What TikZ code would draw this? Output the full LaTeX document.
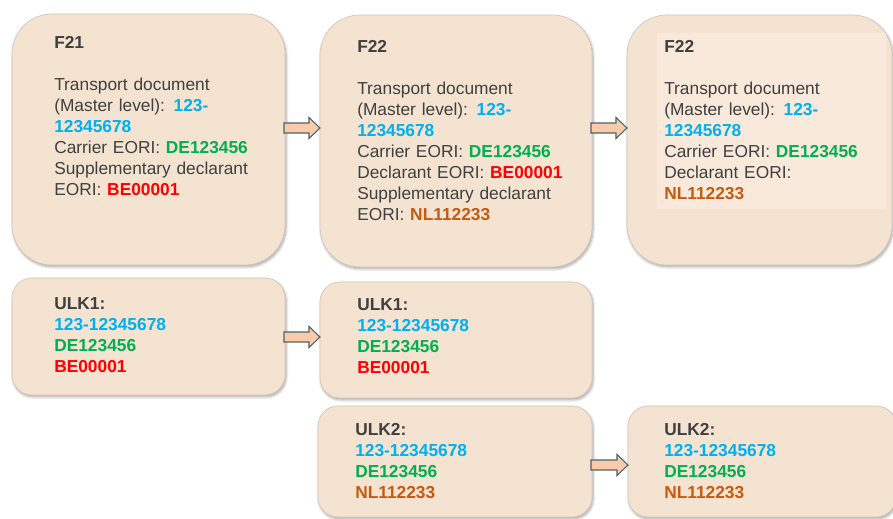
\documentclass[tikz,border=0pt]{standalone}
\usepackage{fontspec}
\setmainfont{Liberation Sans}
\usetikzlibrary{calc,shadows.blur}
\definecolor{boxfill}{HTML}{F4E3D1}
\definecolor{boxline}{HTML}{D2C6BA}
\definecolor{innerfill}{HTML}{F8E9DA}
\definecolor{txtgrey}{HTML}{404040}
\definecolor{cblue}{HTML}{00B0F0}
\definecolor{cgreen}{HTML}{00B050}
\definecolor{cred}{HTML}{FF0000}
\definecolor{corange}{HTML}{C55A11}
\definecolor{arrfill}{HTML}{F8CBAD}
\definecolor{arrline}{HTML}{4F6262}
\newcommand\vb[1]{\textbf{\color{cblue}#1}}
\newcommand\vg[1]{\textbf{\color{cgreen}#1}}
\newcommand\vr[1]{\textbf{\color{cred}#1}}
\newcommand\vo[1]{\textbf{\color{corange}#1}}
\tikzset{
  panel/.style={rectangle, fill=boxfill, draw=boxline, line width=0.5pt, inner sep=0pt, outer sep=0pt,
    blur shadow={shadow blur steps=6, shadow xshift=0.8pt, shadow yshift=-1.4pt, shadow blur radius=2pt, shadow opacity=35}},
  bigbox/.style={panel, rounded corners=30pt},
  smallbox/.style={panel, rounded corners=15pt},
  txt/.style={anchor=base west, inner sep=0pt, text width=240pt, align=left, text=txtgrey,
    font=\fontsize{13}{15.75}\selectfont},
  barrow/.style={fill=arrfill, draw=arrline, line width=0.8pt, line join=miter}
}
\newcommand\blockarr[3]{%
  \path (#1.east |- 0,#3) coordinate (s) (#2.west |- 0,#3) coordinate (e);
  \draw[barrow] ($(s)+(-1,-5)$) -- ($(e)+(-11,-5)$) -- ($(e)+(-11,-10.5)$) -- (e)
    -- ($(e)+(-11,10.5)$) -- ($(e)+(-11,5)$) -- ($(s)+(-1,5)$) -- cycle;}
\begin{document}
\begin{tikzpicture}[x=0.75pt,y=-0.75pt]
\useasboundingbox (0,0) rectangle (893,518);
\begin{scope}
\clip (0,0) rectangle (893,518);
% top row
\node[bigbox, minimum width=204.75pt, minimum height=188.25pt] (A) at (148.5,139.5) {};
\node[bigbox, minimum width=204pt, minimum height=189pt] (B) at (456,141) {};
\node[bigbox, minimum width=198.75pt, minimum height=187.5pt] (C) at (759.5,140) {};
\node[rectangle, fill=innerfill, inner sep=0pt, minimum width=171.75pt, minimum height=132pt] (Ci) at (771.5,121) {};
% bottom row
\node[smallbox, minimum width=204.75pt, minimum height=87.75pt] (D) at (148.5,336.5) {};
\node[smallbox, minimum width=204pt, minimum height=87pt] (E) at (456,340) {};
\node[smallbox, minimum width=205.5pt, minimum height=83.25pt] (F) at (455,461.5) {};
\node[smallbox, minimum width=201pt, minimum height=83.25pt] (G) at (762,461.5) {};
\end{scope}
% texts
\node[txt] (At) at (54,48) {\textbf{F21}\\[15.75pt]
Transport document\\
(Master level): \vb{123-}\\
\vb{12345678}\\
Carrier EORI: \vg{DE123456}\\
Supplementary declarant\\
EORI: \vr{BE00001}};
\node[txt] (Bt) at (357,52) {\textbf{F22}\\[15.75pt]
Transport document\\
(Master level): \vb{123-}\\
\vb{12345678}\\
Carrier EORI: \vg{DE123456}\\
Declarant EORI: \vr{BE00001}\\
Supplementary declarant\\
EORI: \vo{NL112233}};
\node[txt] (Ct) at (664,52) {\textbf{F22}\\[15.75pt]
Transport document\\
(Master level): \vb{123-}\\
\vb{12345678}\\
Carrier EORI: \vg{DE123456}\\
Declarant EORI:\\
\vo{NL112233}};
\node[txt] (Dt) at (54,309) {\textbf{ULK1:}\\
\vb{123-12345678}\\
\vg{DE123456}\\
\vr{BE00001}};
\node[txt] (Et) at (357,310) {\textbf{ULK1:}\\
\vb{123-12345678}\\
\vg{DE123456}\\
\vr{BE00001}};
\node[txt] (Ft) at (355,435) {\textbf{ULK2:}\\
\vb{123-12345678}\\
\vg{DE123456}\\
\vo{NL112233}};
\node[txt] (Gt) at (664,435) {\textbf{ULK2:}\\
\vb{123-12345678}\\
\vg{DE123456}\\
\vo{NL112233}};
% block arrows
\blockarr{A}{B}{128}
\blockarr{B}{C}{128}
\blockarr{D}{E}{337}
\blockarr{F}{G}{465}
\end{tikzpicture}
\end{document}
